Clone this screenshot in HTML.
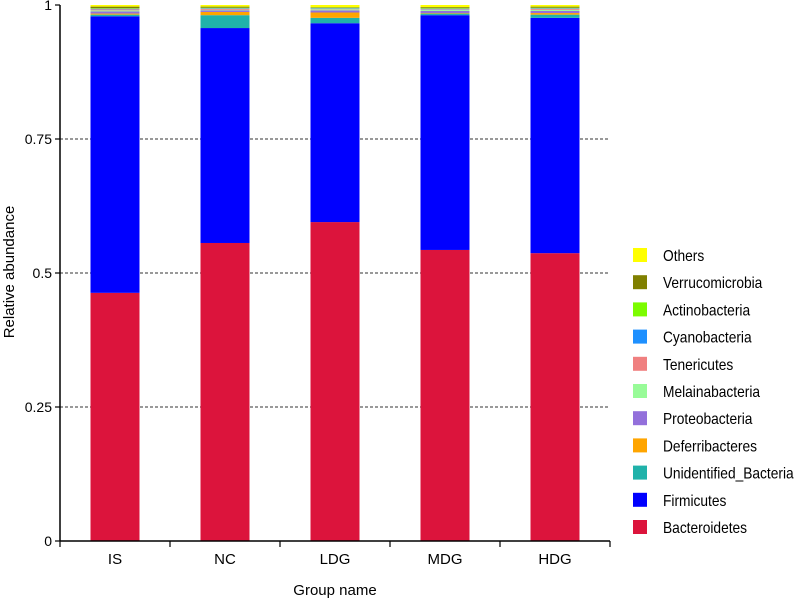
<!DOCTYPE html>
<html><head><meta charset="utf-8"><style>
html,body{margin:0;padding:0;background:#fff;}
svg{display:block;font-family:"Liberation Sans",sans-serif;}
</style></head><body>
<svg id="chart" width="800" height="600" viewBox="0 0 800 600" xmlns="http://www.w3.org/2000/svg"></svg>
<script>
const categories = ["IS","NC","LDG","MDG","HDG"];
const seriesNames = ["Bacteroidetes","Firmicutes","Unidentified_Bacteria","Deferribacteres","Proteobacteria","Melainabacteria","Tenericutes","Cyanobacteria","Actinobacteria","Verrucomicrobia","Others"];
const seriesColors = ["#dc143c","#0000ff","#20b2aa","#ffa500","#9370db","#98fb98","#f08080","#1e90ff","#7cfc00","#808000","#ffff00"];
const bacteroidetes = [0.463,0.556,0.595,0.543,0.537];
const firmicutes = [0.516,0.401,0.371,0.438,0.439];
const unidentified = [0.003,0.024,0.010,0.003,0.006];
const deferribacteres = [0.002,0.006,0.010,0.001,0.003];
const proteobacteria = [0.004,0.003,0.004,0.004,0.004];
const melainabacteria = [0.002,0.001,0.002,0.002,0.002];
const tenericutes = [0.002,0.002,0.001,0.001,0.002];
const cyanobacteria = [0.001,0.001,0.001,0.001,0.001];
const actinobacteria = [0.001,0.001,0.001,0.001,0.001];
const verrucomicrobia = [0.003,0.002,0.001,0.002,0.002];
const others = [0.003,0.003,0.004,0.004,0.003];
const yTicks = [0,0.25,0.5,0.75,1];
const yTickLabels = ["0","0.25","0.5","0.75","1"];

const series = [bacteroidetes,firmicutes,unidentified,deferribacteres,proteobacteria,melainabacteria,tenericutes,cyanobacteria,actinobacteria,verrucomicrobia,others];
const svg = document.getElementById('chart');
const NS = "http://www.w3.org/2000/svg";
const X0 = 60, X1 = 610, Y0 = 541, Y1 = 5;
const band = (X1 - X0) / categories.length;
const barW = 49;
function xC(i){ return X0 + band*(i+0.5); }
function y(v){ return Y0 - v*(Y0-Y1); }
function mk(tag, attrs, parent){ const e=document.createElementNS(NS,tag); for(const k in attrs) e.setAttribute(k,attrs[k]); (parent||svg).appendChild(e); return e; }

// gridlines
yTicks.forEach((t,i)=>{
  if(t>0 && t<1){
    const g = mk('line',{x1:X0,x2:X1,y1:y(t),y2:y(t),stroke:'#333','stroke-width':1,'stroke-dasharray':'3,2'});
    
    
  }
});
// bars
categories.forEach((c,i)=>{
  let cum = 0;
  series.forEach((s,j)=>{
    const v = s[i];
    const r = mk('rect',{x:xC(i)-barW/2,y:y(cum+v),width:barW,height:Math.max(0,y(cum)-y(cum+v)),fill:seriesColors[j]});
    
    
    cum += v;
  });
});
// axes
const ya = mk('line',{x1:X0,x2:X0,y1:Y1,y2:Y0,stroke:'#000','stroke-width':1.5});


const xa = mk('line',{x1:X0,x2:X1,y1:Y0,y2:Y0,stroke:'#000','stroke-width':1.5});


yTicks.forEach((t,i)=>{
  mk('line',{x1:X0-5,x2:X0,y1:y(t),y2:y(t),stroke:'#000','stroke-width':1.2});
  const tx = mk('text',{x:X0-8,y:y(t)+5,'text-anchor':'end','font-size':14,fill:'#000'});
  tx.textContent = yTickLabels[i];
  
  
});
for(let i=0;i<=categories.length;i++){
  mk('line',{x1:X0+band*i,x2:X0+band*i,y1:Y0,y2:Y0+6,stroke:'#000','stroke-width':1.2});
}
categories.forEach((c,i)=>{
  const tx = mk('text',{x:xC(i),y:Y0+23,'text-anchor':'middle','font-size':15,fill:'#000'});
  tx.textContent = c;
  
  
});
const xt = mk('text',{x:335,y:595,'text-anchor':'middle','font-size':15,fill:'#000'});
xt.textContent = 'Group name';


const yt = mk('text',{x:0,y:0,'text-anchor':'middle','font-size':15,fill:'#000',transform:'translate(14,272) rotate(-90)'});
yt.textContent = 'Relative abundance';


// legend
const lg = mk('g',{});


for(let k=seriesNames.length-1, r=0; k>=0; k--, r++){
  const cy = 255 + r*27.2;
  const e = mk('g',{},lg);
  
  
  mk('rect',{x:633,y:cy-7,width:14,height:14,fill:seriesColors[k]},e);
  const t = mk('text',{x:0,y:0,'font-size':16,fill:'#000',transform:'translate(663,'+(cy+6)+') scale(0.86,1)'},e);
  t.textContent = seriesNames[k];
}
</script>
</body></html>
